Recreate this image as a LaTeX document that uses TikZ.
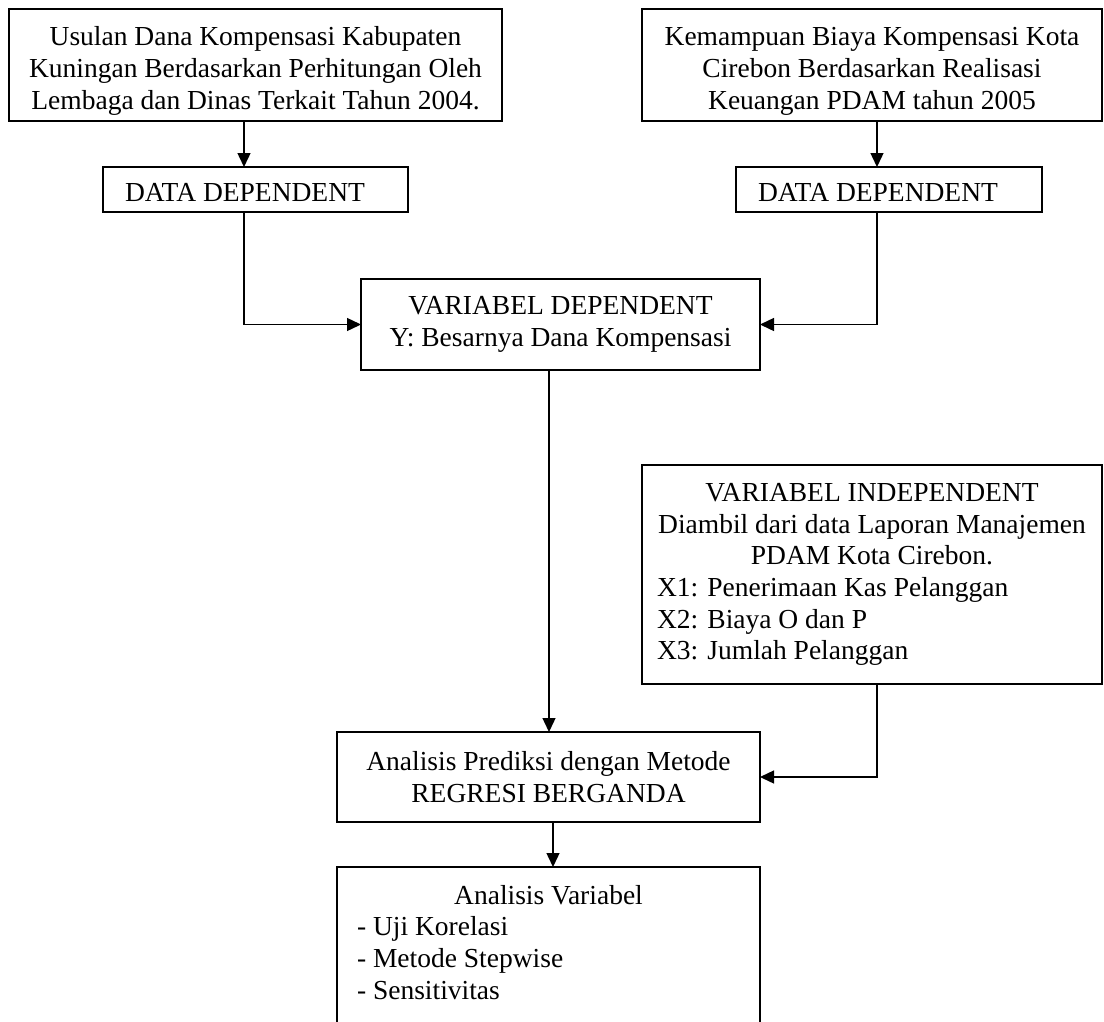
\documentclass[tikz,border=0pt]{standalone}
\usepackage{fontspec}
\setmainfont{Liberation Serif}
\usetikzlibrary{arrows.meta}
\begin{document}
\begin{tikzpicture}[x=1pt,y=-1pt,
  every node/.style={font=\fontsize{27.5}{31.6}\selectfont},
  box/.style={draw, line width=1.4pt, inner sep=0pt, outer sep=0pt, align=center},
  arr/.style={line width=1.4pt, -{Triangle[length=14pt,width=13pt]}}]
\useasboundingbox (0,0) rectangle (1104,1021);
\fill[white] (0,0) rectangle (1104,1021);
\clip (0,0) rectangle (1104,1021);

\node[box, minimum width=493, minimum height=112] (b1) at (255.5,65)
  {\rule{0pt}{31pt}Usulan Dana Kompensasi Kabupaten\\Kuningan Berdasarkan Perhitungan Oleh\\Lembaga dan Dinas Terkait Tahun 2004.};
\node[box, minimum width=460, minimum height=112] (b2) at (872,65)
  {\rule{0pt}{31pt}Kemampuan Biaya Kompensasi Kota\\Cirebon Berdasarkan Realisasi\\Keuangan PDAM tahun 2005};

\node[box, minimum width=305, minimum height=45] (dd1) at (255.5,189.5)
  {\rule{0pt}{25pt}\hspace*{-21pt}DATA DEPENDENT};
\node[box, minimum width=306, minimum height=45] (dd2) at (889,189.5)
  {\rule{0pt}{25pt}\hspace*{-22pt}DATA DEPENDENT};

\node[box, minimum width=399, minimum height=91] (vd) at (560.5,324.5)
  {VARIABEL DEPENDENT\\Y: Besarnya Dana Kompensasi};

\node[box, minimum width=460, minimum height=219] (vi) at (872,574.5)
  {VARIABEL INDEPENDENT\\Diambil dari data Laporan Manajemen\\PDAM Kota Cirebon.\\
   \makebox[430pt][l]{X1: Penerimaan Kas Pelanggan}\\
   \makebox[430pt][l]{X2: Biaya O dan P}\\
   \makebox[430pt][l]{X3: Jumlah Pelanggan}};

\node[box, minimum width=423, minimum height=90] (ap) at (548.5,777)
  {Analisis Prediksi dengan Metode\\REGRESI BERGANDA};

\node[box, minimum width=423, minimum height=200, anchor=north] (av) at (548.5,867) {};
\node[anchor=north, align=center, inner sep=0pt] (avtext) at ([yshift=-18pt]av.north)
  {Analisis Variabel\\
   \makebox[383pt][l]{- Uji Korelasi}\\
   \makebox[383pt][l]{- Metode Stepwise}\\
   \makebox[383pt][l]{- Sensitivitas}};

\draw[arr] ([xshift=-11.5pt]b1.south) -- ([xshift=-11.5pt]dd1.north);
\draw[arr] ([xshift=5pt]b2.south) -- ([xshift=-12pt]dd2.north);
\draw[arr] ([xshift=-11.5pt]dd1.south) |- (vd.west);
\draw[arr] ([xshift=-12pt]dd2.south) |- (vd.east);
\draw[arr] ([xshift=-11.5pt]vd.south) -- ([xshift=-11.5pt]vd.south |- ap.north);
\draw[arr] ([xshift=5pt]vi.south) |- (ap.east);
\draw[arr] ([xshift=4.5pt]ap.south) -- ([xshift=4.5pt]ap.south |- av.north);
\end{tikzpicture}
\end{document}
